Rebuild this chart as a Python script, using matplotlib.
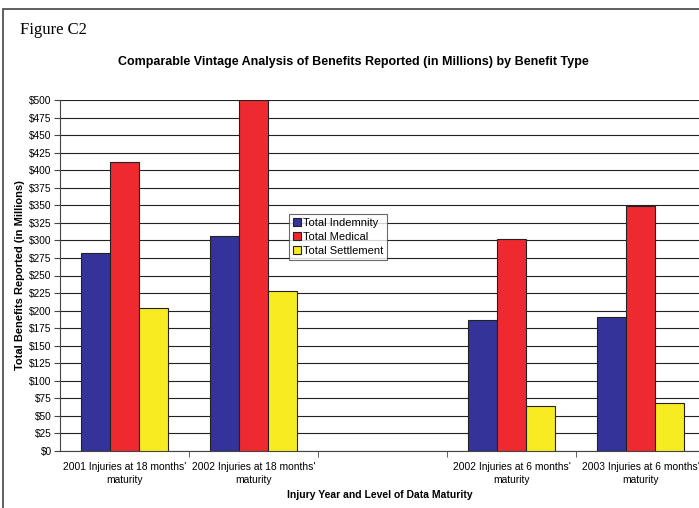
import numpy as np
import matplotlib
matplotlib.use('Agg')
import matplotlib.pyplot as plt
from matplotlib.patches import Rectangle

plt.rcParams['font.family'] = ['Liberation Sans', 'DejaVu Sans']

categories = ["2001 Injuries at 18 months'\nmaturity",
              "2002 Injuries at 18 months'\nmaturity",
              "",
              "2002 Injuries at 6 months'\nmaturity",
              "2003 Injuries at 6 months'\nmaturity"]
indemnity = [282, 306, 0, 187, 191]
medical = [412, 500, 0, 302, 349]
settlement = [204, 228, 0, 64, 69]
series_names = ['Total Indemnity', 'Total Medical', 'Total Settlement']
colors = ['#333399', '#EE2A30', '#F7EC22']

fig = plt.figure(figsize=(6.99, 5.08), dpi=100)

# outer frame of the figure box
fig.patches.append(Rectangle((3 / 699, -0.1), 1.2, (508 - 9) / 508 + 0.1,
                             transform=fig.transFigure, fill=False,
                             edgecolor='#444444', linewidth=1.2))
fig.text(20 / 699, 1 - 30 / 508, 'Figure C2', family='Liberation Serif',
         fontsize=12, va='center', ha='left')
fig.text(353 / 699, 1 - 62 / 508,
         'Comparable Vintage Analysis of Benefits Reported (in Millions) by Benefit Type',
         fontsize=9, fontweight='bold', ha='center', va='center')

ax = fig.add_axes([60 / 699, 57 / 508, 645 / 699, 351 / 508])

x = np.arange(len(categories))
w = 0.223
for i, (vals, name, c) in enumerate(zip([indemnity, medical, settlement], series_names, colors)):
    xs = [xx for xx, v in zip(x, vals) if v > 0]
    vs = [v for v in vals if v > 0]
    ax.bar(np.array(xs) + (i - 1) * w, vs, width=w, color=c, edgecolor='#222222',
           linewidth=0.8, label=name, zorder=3)

ax.set_xlim(-0.5, len(categories) - 0.5)
ax.set_ylim(0, 500)
ax.set_yticks(np.arange(0, 501, 25))
ax.set_yticklabels(['$%d' % v for v in range(0, 501, 25)])
ax.yaxis.grid(True, color='#222222', linewidth=0.8, zorder=0)
ax.set_xticks(x)
ax.set_xticklabels(categories, linespacing=1.35)
ax.set_xticks(np.arange(0.5, len(categories) - 0.5, 1), minor=True)
ax.tick_params(axis='x', which='major', length=0, labelsize=7.4, pad=8)
ax.tick_params(axis='x', which='minor', length=4, direction='out', color='#444444')
ax.tick_params(axis='y', length=4, direction='out', labelsize=7.3, color='#444444', pad=2)

for s in ['top', 'right']:
    ax.spines[s].set_visible(False)
ax.spines['left'].set_color('#444444')
ax.spines['bottom'].set_color('#444444')

ax.set_ylabel('Total Benefits Reported (in Millions)', fontsize=8, fontweight='bold', labelpad=3)
fig.text(380 / 699, 1 - 495 / 508, 'Injury Year and Level of Data Maturity',
         fontsize=7.5, fontweight='bold', ha='center', va='center')

leg = ax.legend(loc='upper left', bbox_to_anchor=(0.355, 0.675), fontsize=8,
                frameon=True, fancybox=False, edgecolor='#444444',
                handlelength=0.7, handleheight=0.7, handletextpad=0.2,
                borderpad=0.35, labelspacing=0.35, borderaxespad=0)
leg.get_frame().set_linewidth(0.8)

fig.savefig('out.png', dpi=100)
